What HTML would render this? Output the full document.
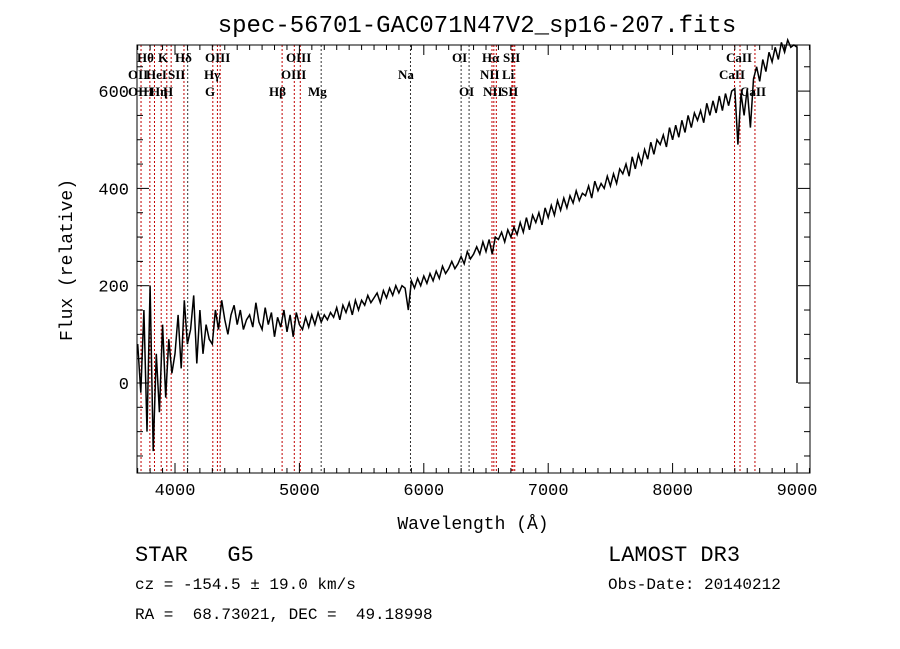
<!DOCTYPE html>
<html><head><meta charset="utf-8"><style>
html,body{margin:0;padding:0;background:#fff;}
svg{display:block;}
text{font-family:"Liberation Serif",serif;}
.mono{font-family:"Liberation Mono",monospace;}
</style></head><body>
<svg id="chart" width="900" height="649" viewBox="0 0 900 649">
<text class="mono" x="477" y="32" font-size="24" text-anchor="middle">spec-56701-GAC071N47V2_sp16-207.fits</text>
<text class="mono" x="473" y="529" font-size="18" text-anchor="middle">Wavelength (Å)</text>
<text class="mono" x="72" y="260" font-size="18" text-anchor="middle" transform="rotate(-90 72 260)">Flux (relative)</text>
<text class="mono" x="135" y="561" font-size="22" xml:space="preserve">STAR   G5</text>
<text class="mono" x="608" y="561" font-size="22">LAMOST DR3</text>
<text class="mono" x="135" y="589" font-size="16">cz = -154.5 ± 19.0 km/s</text>
<text class="mono" x="608" y="589" font-size="16">Obs-Date: 20140212</text>
<text class="mono" x="135" y="619" font-size="16" xml:space="preserve">RA =  68.73021, DEC =  49.18998</text>
<g id="plot"></g>
</svg>
<script>
const xTicks=[4000,5000,6000,7000,8000,9000];
const yTicks=[0,200,400,600];
const waveStart=3700, waveStep=25;
const flux=[80,-20,150,-100,200,-140,60,-60,120,-30,90,20,
60,140,30,170,80,110,180,40,150,60,120,90,
80,150,110,170,130,100,140,160,120,150,110,130,
140,115,165,125,110,155,120,145,95,135,115,150,
105,140,95,145,120,110,135,115,140,120,145,125,
140,130,145,135,155,130,160,145,165,140,170,150,
170,160,180,165,175,185,165,190,175,195,180,200,
185,200,195,150,210,195,215,200,220,205,225,210,
230,215,240,225,235,250,235,245,260,245,270,255,
265,280,265,290,270,295,265,300,295,310,290,315,
300,320,305,330,310,340,315,345,330,350,325,360,
340,365,345,375,355,380,360,385,370,395,375,390,
385,405,380,415,395,410,400,425,405,430,410,440,
430,450,425,465,440,470,450,480,460,495,470,500,
490,510,485,525,500,530,505,540,515,550,525,555,
540,560,535,575,550,580,555,590,560,595,570,600,
605,490,595,550,605,525,625,650,620,665,640,680,
660,690,665,700,680,705,690,695,690];
const lineWaves=[3727,3798,3835,3889,3934,3969,4072,4102,4304,4341,4363,4861,4959,5007,5175,5893,6300,6364,6548,6563,6583,6708,6717,6731,8498,8542,8662];
const lineRed=[1,1,1,1,1,1,1,0,1,1,1,1,1,1,0,0,0,0,1,1,1,1,1,1,1,1,1];
const labelText=["Hθ","K","Hδ","OIII","OIII","OI","Hα","SII","CaII","OII","HeI","SII","Hγ","OIII","Na","NII","Li","CaII","OIII","Hη","H","G","Hβ","Mg","OI","NII","SII","CaII"];
const labelX=[137,158,175,205,286,452,482,503,726,128,146,168,204,281,398,480,502,719,128,150,163,205,269,308,459,483,501,740];
const labelRow=[0,0,0,0,0,0,0,0,0,1,1,1,1,1,1,1,1,1,2,2,2,2,2,2,2,2,2,2];

const X0=137,X1=810,Y0=45,Y1=473;
const xs=w=>175+(w-4000)*0.1244;
const ys=f=>383-f*0.4865;
const NS="http://www.w3.org/2000/svg";
const g=document.getElementById('plot');
function mk(t,a){const e=document.createElementNS(NS,t);for(const k in a)e.setAttribute(k,a[k]);g.appendChild(e);return e;}

lineWaves.forEach((w,i)=>{
 const e=mk('line',{x1:xs(w),x2:xs(w),y1:Y0,y2:Y1,stroke:lineRed[i]?'#c00000':'#333','stroke-width':1,'stroke-dasharray':'2,2'});
 
 
});
labelText.forEach((t,i)=>{
 const e=mk('text',{x:labelX[i],y:62+labelRow[i]*17,'font-size':13,'font-weight':'bold'});
 e.textContent=t;
 
 
});
let d='';
flux.forEach((f,i)=>{const w=waveStart+i*waveStep;d+=(i?'L':'M')+xs(w).toFixed(1)+','+ys(f).toFixed(1);});
const lastW=waveStart+(flux.length-1)*waveStep;
d+='L'+xs(lastW).toFixed(1)+','+ys(0).toFixed(1);
const p=mk('path',{d:d,fill:'none',stroke:'#000','stroke-width':1.5});



const fr=mk('rect',{x:X0,y:Y0,width:X1-X0,height:Y1-Y0,fill:'none',stroke:'#000','stroke-width':1});


for(let w=3700;w<=9100;w+=100){
 const x=xs(w);if(x<X0||x>X1)continue;
 const L=(w%1000===0)?10:5;
 mk('line',{x1:x,x2:x,y1:Y1,y2:Y1-L,stroke:'#000'});
 mk('line',{x1:x,x2:x,y1:Y0,y2:Y0+L,stroke:'#000'});
}
for(let f=-150;f<=650;f+=50){
 const y=ys(f);if(y<Y0||y>Y1)continue;
 const L=(f%200===0)?12:6;
 mk('line',{x1:X0,x2:X0+L,y1:y,y2:y,stroke:'#000'});
 mk('line',{x1:X1,x2:X1-L,y1:y,y2:y,stroke:'#000'});
}
xTicks.forEach(w=>{
 const e=mk('text',{x:xs(w),y:Y1+22,'font-size':17,'text-anchor':'middle',class:'mono'});
 e.textContent=w;
 
 
});
yTicks.forEach(f=>{
 const e=mk('text',{x:X0-8,y:ys(f)+6,'font-size':17,'text-anchor':'end',class:'mono'});
 e.textContent=f;
 
 
});
</script>
</body></html>
